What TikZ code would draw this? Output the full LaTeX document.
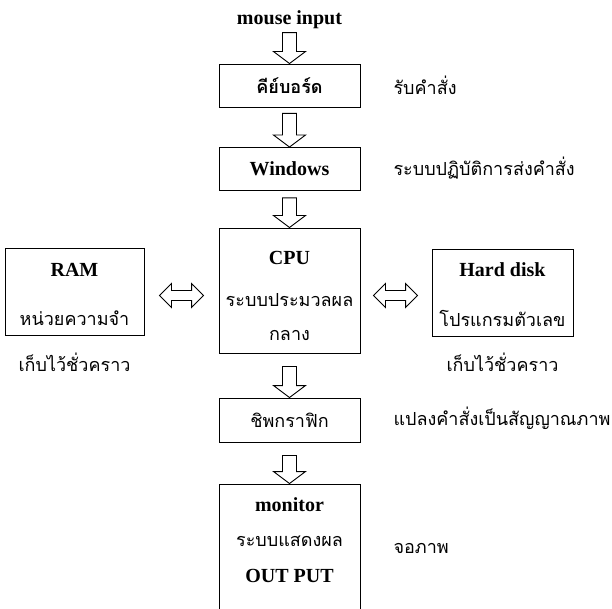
\documentclass[tikz,border=0pt]{standalone}
\usepackage{fontspec}
\setmainfont{Liberation Serif}
\newfontfamily\thaifont[Script=Thai]{Loma}
\usetikzlibrary{calc,positioning}

\tikzset{
    box/.style={draw, line width=0.9pt, minimum width=141pt, minimum height=43pt, inner sep=0pt},
    eng/.style={font=\fontsize{20}{24}\selectfont\bfseries},
    th/.style={font=\fontsize{18}{22}\selectfont\thaifont},
    blk/.style={draw, line width=0.9pt, line join=miter}
}
\newcommand{\blockdown}[2]{%
    \draw[blk] let \p1=(#1), \p2=(#2) in
        (\p2) -- (\x2-16pt,\y2+12pt) -- (\x2-7pt,\y2+12pt) -- (\x2-7pt,\y1)
        -- (\x2+7pt,\y1) -- (\x2+7pt,\y2+12pt) -- (\x2+16pt,\y2+12pt) -- cycle;}
\newcommand{\blockboth}[2]{%
    \draw[blk] let \p1=(#1), \p2=(#2) in
        (\p1) -- (\x1+12pt,\y1+12pt) -- (\x1+12pt,\y1+5pt) -- (\x2-12pt,\y1+5pt)
        -- (\x2-12pt,\y1+12pt) -- (\x2,\y1) -- (\x2-12pt,\y1-12pt) -- (\x2-12pt,\y1-5pt)
        -- (\x1+12pt,\y1-5pt) -- (\x1+12pt,\y1-12pt) -- cycle;}

\begin{document}
\begin{tikzpicture}[x=1pt, y=-1pt]
                        \useasboundingbox (0,0) rectangle (612,609);
                        \clip (0,0) rectangle (612,609);
                        \node[eng] (mouse) at (289.5,20) {mouse input};
                        \node[box, th] (kbd) at (289.5,85.5) {\bfseries คีย์บอร์ด};
                        \node[box, eng] (win) at (289.5,169) {Windows};
                        \node[box, minimum height=125pt] (cpu) at (289.5,290.5) {};
                        \node[box, minimum width=139pt, minimum height=87pt] (ram) at (74.5,291.5) {};
                        \node[box, minimum height=87pt] (hd) at (502.5,292.5) {};
                        \node[box, th, minimum height=44pt] (gfx) at (289.5,420) {ชิพกราฟิก};
                        \node[box, minimum height=156pt] (mon) at (289.5,562) {};
                        \node[eng] (cputop) at (289.5,258) {CPU};
                        \node[th] (cpumid) at (289.5,300) {ระบบประมวลผล};
                        \node[th] (cpubot) at (289.5,335) {กลาง};
                        \node[eng] (ramtop) at (74.5,270) {RAM};
                        \node[th] (rambot) at (74.5,318) {หน่วยความจำ};
                        \node[eng] (hdtop) at (502.5,270) {Hard disk};
                        \node[th] (hdbot) at (502.5,318) {โปรแกรมตัวเลข};
                        \node[eng] (montop) at (289.5,505) {monitor};
                        \node[th] (monmid) at (289.5,541) {ระบบแสดงผล};
                        \node[eng] (monbot) at (289.5,576) {OUT PUT};
                        \node[th] (ramnote) at (74.5,362) {เก็บไว้ชั่วคราว};
                        \node[th] (hdnote) at (502.5,362) {เก็บไว้ชั่วคราว};
                        \node[th, anchor=west] (kbdnote) at (390,85) {รับคำสั่ง};
                        \node[th, anchor=west] (winnote) at (390,168) {ระบบปฏิบัติการส่งคำสั่ง};
                        \node[th, anchor=west] (gfxnote) at (390,418) {แปลงคำสั่งเป็นสัญญาณภาพ};
                        \node[th, anchor=west] (monnote) at (390,548) {จอภาพ};
                        \blockdown{mouse.south}{kbd.north}
                        \blockdown{$(kbd.south)+(0,6)$}{win.north}
                        \blockdown{$(win.south)+(0,7)$}{cpu.north}
                        \blockdown{$(cpu.south)+(0,13)$}{gfx.north}
                        \blockdown{$(gfx.south)+(0,13)$}{mon.north}
                        \blockboth{$(ram.east)+(15,4)$}{$(cpu.west)+(-15,0)$}
                        \blockboth{$(cpu.east)+(13,5)$}{$(hd.west)+(-14,0)$}
                    \end{tikzpicture}
\end{document}
